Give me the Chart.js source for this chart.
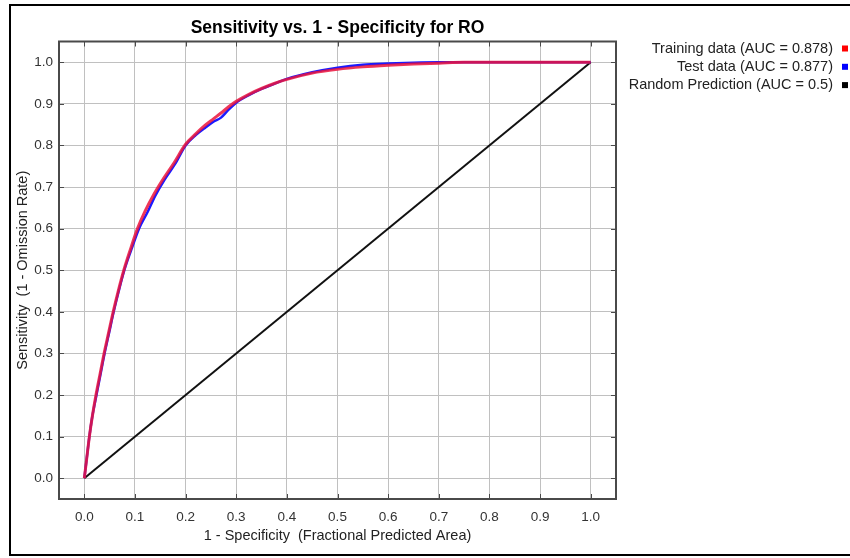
<!DOCTYPE html>
<html>
<head>
<meta charset="utf-8">
<script src="https://cdn.jsdelivr.net/npm/chart.js@4.4.0/dist/chart.umd.min.js"></script>
<style>
  html, body { margin: 0; padding: 0; background: #fff; }
  #wrap { position: relative; width: 850px; height: 558px; overflow: hidden; }
  #roc { display: block; }
  #frame { position: absolute; left: 9px; top: 4px; width: 900px; height: 552px; box-sizing: border-box; border: 2px solid #000; pointer-events: none; }
</style>
</head>
<body>
<div id="wrap">
  <canvas id="roc" width="850" height="558"></canvas>
  <div id="frame"></div>
</div>
<script>
// Valores (curva ROC)
const tickValues = [0, 0.1, 0.2, 0.3, 0.4, 0.5, 0.6, 0.7, 0.8, 0.9, 1.0];

const trainX = [0, 0.005, 0.01, 0.016, 0.023, 0.031, 0.039, 0.048, 0.057, 0.067, 0.078, 0.091, 0.105, 0.12, 0.138, 0.156, 0.177, 0.2, 0.22, 0.237, 0.255, 0.27, 0.285, 0.3, 0.325, 0.35, 0.375, 0.4, 0.45, 0.5, 0.55, 0.6, 0.65, 0.7, 0.75, 1.0];
const trainY = [0, 0.05, 0.1, 0.15, 0.2, 0.25, 0.3, 0.35, 0.4, 0.45, 0.5, 0.55, 0.6, 0.642, 0.684, 0.72, 0.758, 0.803, 0.828, 0.847, 0.864, 0.878, 0.893, 0.906, 0.923, 0.937, 0.949, 0.959, 0.974, 0.983, 0.989, 0.993, 0.996, 0.998, 1.0, 1.0];

const testX = [0, 0.005, 0.01, 0.016, 0.024, 0.032, 0.04, 0.049, 0.058, 0.068, 0.079, 0.093, 0.108, 0.125, 0.14, 0.158, 0.179, 0.2, 0.22, 0.24, 0.255, 0.27, 0.285, 0.3, 0.325, 0.35, 0.375, 0.4, 0.45, 0.5, 0.55, 0.6, 0.65, 0.7, 1.0];
const testY = [0, 0.05, 0.1, 0.15, 0.2, 0.25, 0.3, 0.35, 0.4, 0.45, 0.5, 0.55, 0.6, 0.64, 0.679, 0.717, 0.755, 0.8, 0.825, 0.844, 0.857, 0.867, 0.886, 0.903, 0.921, 0.936, 0.948, 0.96, 0.976, 0.987, 0.994, 0.997, 0.999, 1.0, 1.0];

const randomX = [0, 1];
const randomY = [0, 1];

const seriesLabels = ['Training data (AUC = 0.878)', 'Test data (AUC = 0.877)', 'Random Prediction (AUC = 0.5)'];

const FONT = "'Liberation Sans', Arial, sans-serif";

function pontos(xs, ys) {
    return xs.map((x, i) => ({ x: x, y: ys[i] }));
}

function fixarTicks(scale) {
    scale.ticks = tickValues.map(v => ({ value: v }));
}

// moldura do gráfico + marcas internas nos quatro lados
const moldura = {
    id: 'moldura',
    afterDatasetsDraw(chart) {
        const { ctx, chartArea: a, scales: { x, y } } = chart;
        ctx.save();
        ctx.strokeStyle = '#4a4a4a';
        ctx.lineWidth = 1;
        ctx.beginPath();
        tickValues.forEach(v => {
            const px = Math.round(x.getPixelForValue(v)) + 0.5;
            ctx.moveTo(px, a.bottom); ctx.lineTo(px, a.bottom - 5);
            ctx.moveTo(px, a.top); ctx.lineTo(px, a.top + 5);
            const py = Math.round(y.getPixelForValue(v)) + 0.5;
            ctx.moveTo(a.left, py); ctx.lineTo(a.left + 5, py);
            ctx.moveTo(a.right, py); ctx.lineTo(a.right - 5, py);
        });
        ctx.stroke();
        ctx.lineWidth = 2;
        ctx.strokeRect(a.left, a.top, a.right - a.left, a.bottom - a.top);
        ctx.restore();
    }
};

// legenda à direita: texto alinhado à direita, quadradinho depois
const legenda = {
    id: 'legenda',
    afterDraw(chart) {
        const ctx = chart.ctx;
        ctx.save();
        ctx.font = '14.5px ' + FONT;
        ctx.textAlign = 'right';
        ctx.textBaseline = 'middle';
        chart.data.datasets.forEach((ds, i) => {
            const yy = 48.5 + i * 18.3;
            ctx.fillStyle = '#222';
            ctx.fillText(ds.label, 833, yy);
            ctx.fillStyle = ds.backgroundColor;
            ctx.fillRect(842, yy - 3, 6, 6);
        });
        ctx.restore();
    }
};

new Chart(document.getElementById('roc'), {
    type: 'scatter',
    data: {
        datasets: [
            {
                label: seriesLabels[0],
                data: pontos(trainX, trainY),
                showLine: true,
                cubicInterpolationMode: 'monotone',
                borderColor: 'rgba(235, 20, 60, 0.85)',
                backgroundColor: '#ff0000',
                borderWidth: 3,
                pointRadius: 0
            },
            {
                label: seriesLabels[1],
                data: pontos(testX, testY),
                showLine: true,
                cubicInterpolationMode: 'monotone',
                borderColor: '#1a1aff',
                backgroundColor: '#0000ff',
                borderWidth: 2.5,
                pointRadius: 0
            },
            {
                label: seriesLabels[2],
                data: pontos(randomX, randomY),
                showLine: true,
                borderColor: '#111',
                backgroundColor: '#000',
                borderWidth: 2,
                pointRadius: 0
            }
        ]
    },
    options: {
        responsive: false,
        animation: false,
        layout: { padding: { left: 0, top: 0, right: 234, bottom: 0 } },
        scales: {
            x: {
                type: 'linear', min: -0.05, max: 1.05,
                afterBuildTicks: fixarTicks,
                afterFit: s => { s.height = 59; },
                grid: { color: '#c0c0c0', drawTicks: false },
                border: { display: false },
                ticks: { padding: 10, color: '#333', autoSkip: false, maxRotation: 0,
                         font: { family: FONT, size: 13.5 }, callback: v => v.toFixed(1) },
                title: { display: true, text: '1 - Specificity  (Fractional Predicted Area)', color: '#222',
                         font: { family: FONT, size: 14.5 }, padding: { top: 0, bottom: 13.3 } }
            },
            y: {
                type: 'linear', min: -0.05, max: 1.05,
                afterBuildTicks: fixarTicks,
                afterFit: s => { s.width = 59; },
                grid: { color: '#c0c0c0', drawTicks: false },
                border: { display: false },
                ticks: { padding: 6, color: '#333', autoSkip: false,
                         font: { family: FONT, size: 13.5 }, callback: v => v.toFixed(1) },
                title: { display: true, text: 'Sensitivity  (1 - Omission Rate)', color: '#222',
                         font: { family: FONT, size: 14.5 }, padding: { top: 14, bottom: 0 } }
            }
        },
        plugins: {
            legend: { display: false },
            tooltip: { enabled: false },
            title: {
                display: true, fullSize: false,
                text: 'Sensitivity vs. 1 - Specificity for RO',
                color: '#000',
                font: { family: FONT, size: 17.5, weight: 'bold' },
                padding: { top: 18, bottom: 2.5 }
            }
        }
    },
    plugins: [moldura, legenda]
});
</script>
</body>
</html>
